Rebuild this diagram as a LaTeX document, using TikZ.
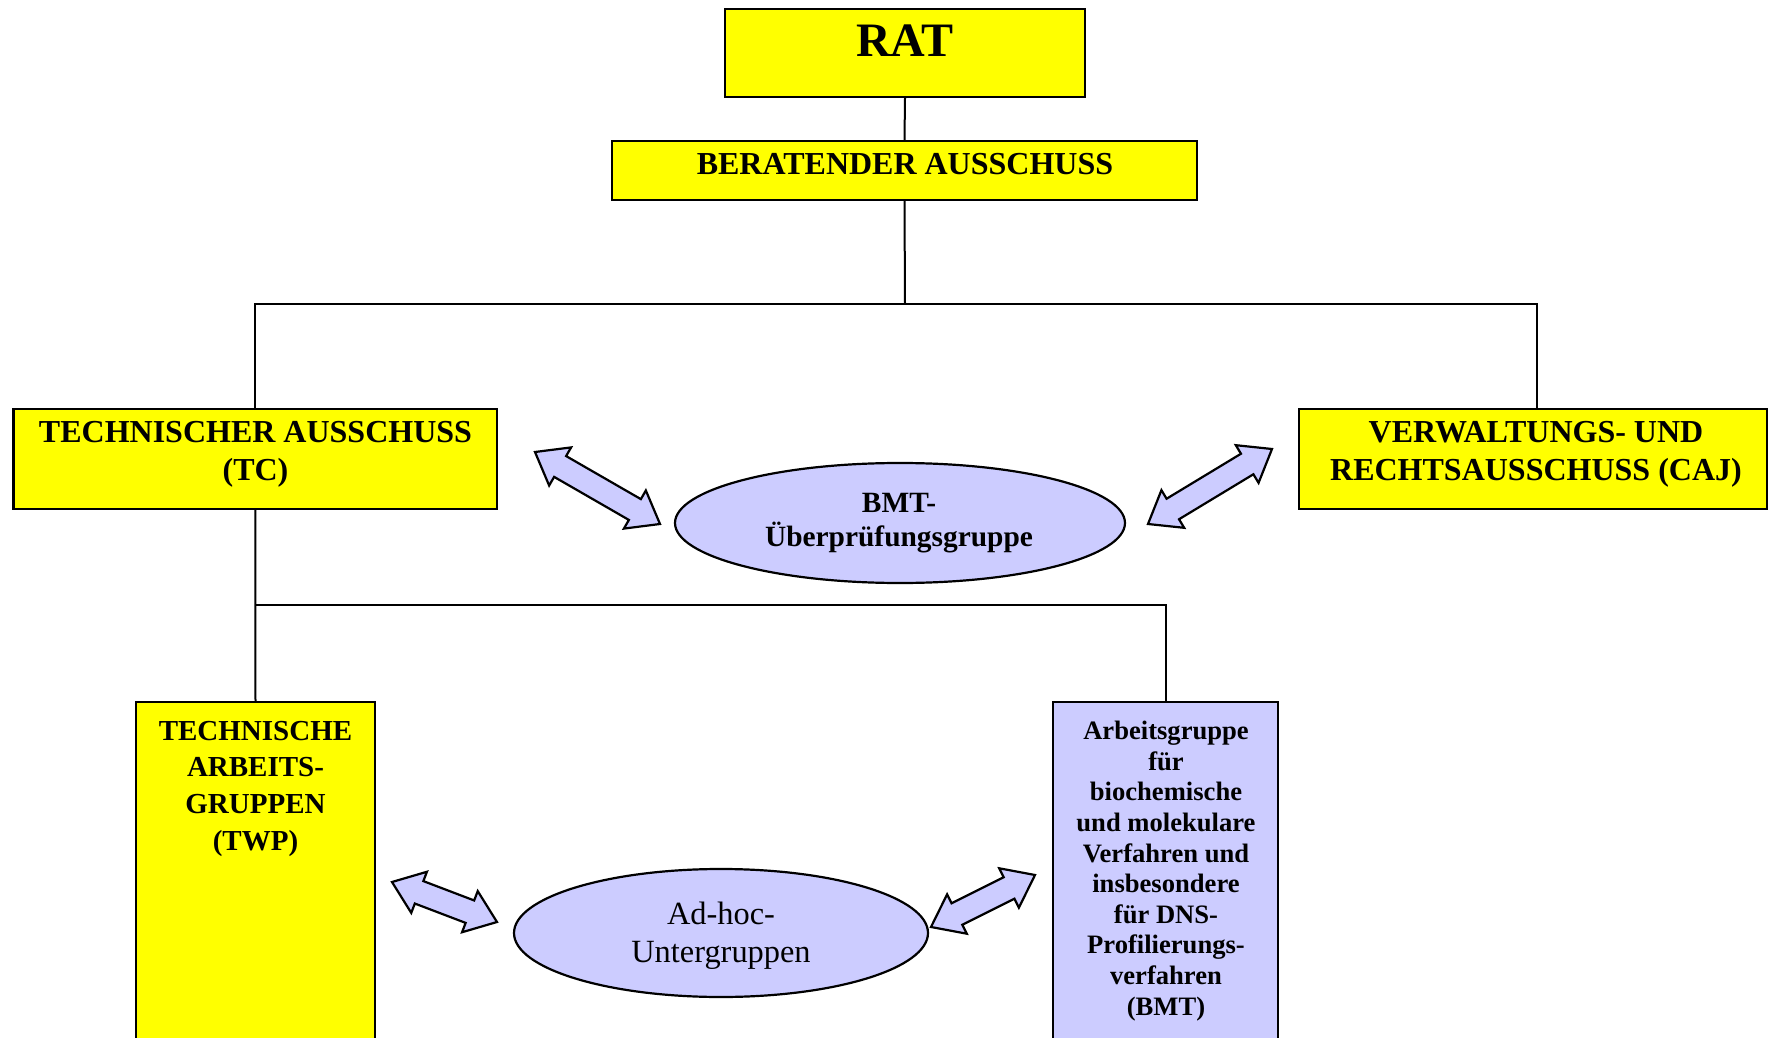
\documentclass[tikz,border=0pt]{standalone}
\usepackage{fontspec}
\setmainfont{Liberation Serif}
\usetikzlibrary{calc,shapes.geometric}
\definecolor{boxyellow}{RGB}{255,255,0}
\definecolor{lav}{RGB}{204,204,255}
\tikzset{
  ybox/.style={draw=black, line width=1.2pt, fill=boxyellow, rectangle, inner sep=0pt},
  lbox/.style={draw=black, line width=1.2pt, fill=lav, rectangle, inner sep=0pt},
  lell/.style={draw=black, line width=1.1pt, fill=lav, ellipse, inner sep=0pt},
  txt/.style={inner sep=0pt, align=center, anchor=base},
  conn/.style={draw=black, line width=1pt},
  blockarrow/.style={draw=black, line width=1.1pt, fill=lav, line join=miter},
}
\newcommand{\blockdarrow}[2]{%
 \draw[blockarrow] (#1)
 -- ($ ($(#1)!14.5pt!(#2)$) !11pt!90:(#2) $)
 -- ($ ($(#1)!14.5pt!(#2)$) !6pt!90:(#2) $)
 -- ($ ($(#2)!14.5pt!(#1)$) !6pt!-90:(#1) $)
 -- ($ ($(#2)!14.5pt!(#1)$) !11pt!-90:(#1) $)
 -- (#2)
 -- ($ ($(#2)!14.5pt!(#1)$) !11pt!90:(#1) $)
 -- ($ ($(#2)!14.5pt!(#1)$) !6pt!90:(#1) $)
 -- ($ ($(#1)!14.5pt!(#2)$) !6pt!-90:(#2) $)
 -- ($ ($(#1)!14.5pt!(#2)$) !11pt!-90:(#2) $)
 -- cycle;}
\begin{document}
\begin{tikzpicture}[x=0.5pt,y=-0.5pt]
\useasboundingbox (0,0) rectangle (1769,1038);
\clip (0,0) rectangle (1769,1038);
\fill[white] (0,0) rectangle (1769,1038);

% boxes
\node[ybox, minimum width=180pt, minimum height=44pt] (rat) at (905,53) {};
\node[ybox, minimum width=292.5pt, minimum height=29.5pt] (ber) at (904.5,170.5) {};
\node[ybox, minimum width=241.75pt, minimum height=50pt] (tc) at (255.25,459) {};
\node[ybox, minimum width=234pt, minimum height=50pt] (caj) at (1533,459) {};
\node[ybox, minimum width=119.5pt, minimum height=174pt] (twp) at (255.5,876) {};
\node[lbox, minimum width=112.5pt, minimum height=174pt] (bmt) at (1165.5,876) {};
\node[lell, minimum width=225pt, minimum height=60pt] (bmtg) at (900,523) {};
\node[lell, minimum width=207pt, minimum height=64pt] (adhoc) at (721,933) {};

% texts
\node[txt, font={\fontsize{24}{28}\selectfont\bfseries}] (ratT) at (905,57) {RAT};
\node[txt, font={\fontsize{16}{19}\selectfont\bfseries}] (berT) at (905,175) {BERATENDER AUSSCHUSS};
\node[txt, font={\fontsize{16}{19}\selectfont\bfseries}] (tcT) at (255.5,480) {TECHNISCHER AUSSCHUSS\\(TC)};
\node[txt, font={\fontsize{16}{19}\selectfont\bfseries}] (cajT) at (1536,480) {VERWALTUNGS- UND\\RECHTSAUSSCHUSS (CAJ)};
\node[txt, font={\fontsize{14.7}{17}\selectfont\bfseries}] (bmtgT) at (899,546) {BMT-\\Überprüfungsgruppe};
\node[txt, font={\fontsize{16.2}{18.8}\selectfont}] (adhocT) at (721,962) {Ad-hoc-\\Untergruppen};
\node[txt, font={\fontsize{14.5}{18.3}\selectfont\bfseries}] (twpT) at (255.5,850) {TECHNISCHE\\ARBEITS-\\GRUPPEN\\(TWP)};
\node[txt, font={\fontsize{13.3}{15.3}\selectfont\bfseries}] (bmtT) at (1166,1015) {Arbeitsgruppe\\für\\biochemische\\und molekulare\\Verfahren und\\insbesondere\\für DNS-\\Profilierungs-\\verfahren\\(BMT)};

% connectors
\coordinate (j1) at (905,304);
\coordinate (j2) at (255.5,605);
\draw[conn] (rat.south) -- (ber.north);
\draw[conn] (ber.south) -- (j1);
\draw[conn] (tc.north) |- (j1) -| ([xshift=2pt]caj.north);
\draw[conn] (tc.south) -- (twp.north);
\draw[conn] (j2) -| (bmt.north);

% block double arrows
\coordinate (a1) at (535,452); \coordinate (b1) at (660,524);
\coordinate (a2) at (1148,524); \coordinate (b2) at (1272,449);
\coordinate (a3) at (392,882); \coordinate (b3) at (497,922);
\coordinate (a4) at (931,927); \coordinate (b4) at (1035,875);
\blockdarrow{a1}{b1}
\blockdarrow{a2}{b2}
\blockdarrow{a3}{b3}
\blockdarrow{a4}{b4}
\end{tikzpicture}
\end{document}
